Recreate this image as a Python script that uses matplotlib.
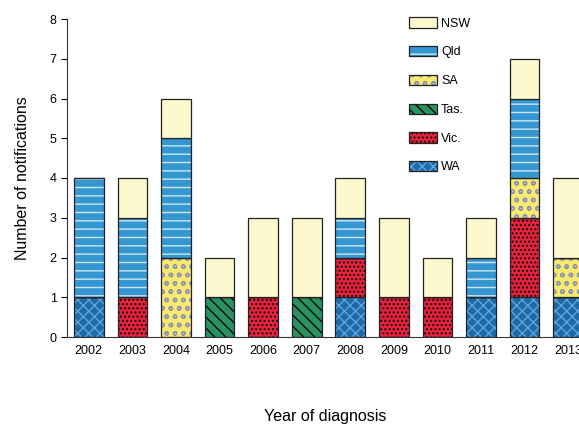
import numpy as np
import matplotlib
matplotlib.use("Agg")
import matplotlib.pyplot as plt
from matplotlib.patches import Patch

plt.rcParams['font.family'] = ['Liberation Sans', 'DejaVu Sans']
plt.rcParams['hatch.linewidth'] = 1.0

years = ['2002', '2003', '2004', '2005', '2006', '2007', '2008', '2009', '2010', '2011', '2012', '2013']
wa = [1, 0, 0, 0, 0, 0, 1, 0, 0, 1, 1, 1]
vic = [0, 1, 0, 0, 1, 0, 1, 1, 1, 0, 2, 0]
tas = [0, 0, 0, 1, 0, 1, 0, 0, 0, 0, 0, 0]
sa = [0, 0, 2, 0, 0, 0, 0, 0, 0, 0, 1, 1]
qld = [3, 2, 3, 0, 0, 0, 1, 0, 0, 1, 2, 0]
nsw = [0, 1, 1, 1, 2, 2, 1, 2, 1, 1, 1, 2]

# bottom to top: label, values, fill, hatch, hatch colour
series = [
    ('WA', wa, '#1d6aa5', 'xxx', '#5fa5dc'),
    ('Vic.', vic, '#e8213c', '....', '#111111'),
    ('Tas.', tas, '#2a9160', '\\\\\\', '#0a0a0a'),
    ('SA', sa, '#f8ea6c', 'oo', '#8f93b8'),
    ('Qld', qld, '#3497d2', '--', '#cfe6f6'),
    ('NSW', nsw, '#fdf8cd', '', '#fdf8cd'),
]

fig = plt.figure(figsize=(5.79, 4.25), dpi=100)
ax = fig.add_axes([67 / 579, 88 / 425, 523 / 579, 318 / 425])

x = np.arange(len(years))
bottom = np.zeros(len(years))
for name, vals, fc, hatch, hc in series:
    vals = np.array(vals, dtype=float)
    ax.bar(x, vals, 0.68, bottom=bottom, color=fc, hatch=hatch,
           edgecolor=hc, linewidth=0)
    ax.bar(x, vals, 0.68, bottom=bottom, color='none',
           edgecolor='#222222', linewidth=0.9)
    bottom += vals

ax.set_xlim(-0.5, len(years) - 0.5)
ax.set_ylim(0, 8)
ax.set_yticks(range(0, 9))
ax.set_xticks(x)
ax.set_xticklabels(years)
ax.tick_params(axis='x', length=0, labelsize=9, pad=6)
ax.tick_params(axis='y', length=4, labelsize=9, direction='out')
for s in ['top', 'right']:
    ax.spines[s].set_visible(False)
ax.spines['left'].set_color('#333333')
ax.spines['bottom'].set_color('#333333')

ax.set_ylabel('Number of notifications', fontsize=11.5, labelpad=14)
ax.set_xlabel('Year of diagnosis', fontsize=11.5)
ax.xaxis.set_label_coords((325 - 67) / 523, -72 / 318)

order = ['NSW', 'Qld', 'SA', 'Tas.', 'Vic.', 'WA']
leg_handles = []
for name in order:
    for s in series:
        if s[0] == name:
            fc, hatch, hc = s[2], s[3], s[4]
    p1 = Patch(facecolor=fc, hatch=hatch, edgecolor=hc, linewidth=0)
    p2 = Patch(facecolor='none', edgecolor='#222222', linewidth=0.9)
    leg_handles.append((p1, p2))
fig.legend(leg_handles, order, loc='upper left', bbox_to_anchor=(398 / 579, 1 - 6 / 425),
           frameon=False, fontsize=9, handlelength=2.2, handleheight=0.9,
           labelspacing=1.3, handletextpad=0.35)

fig.savefig('out.png', dpi=100)
